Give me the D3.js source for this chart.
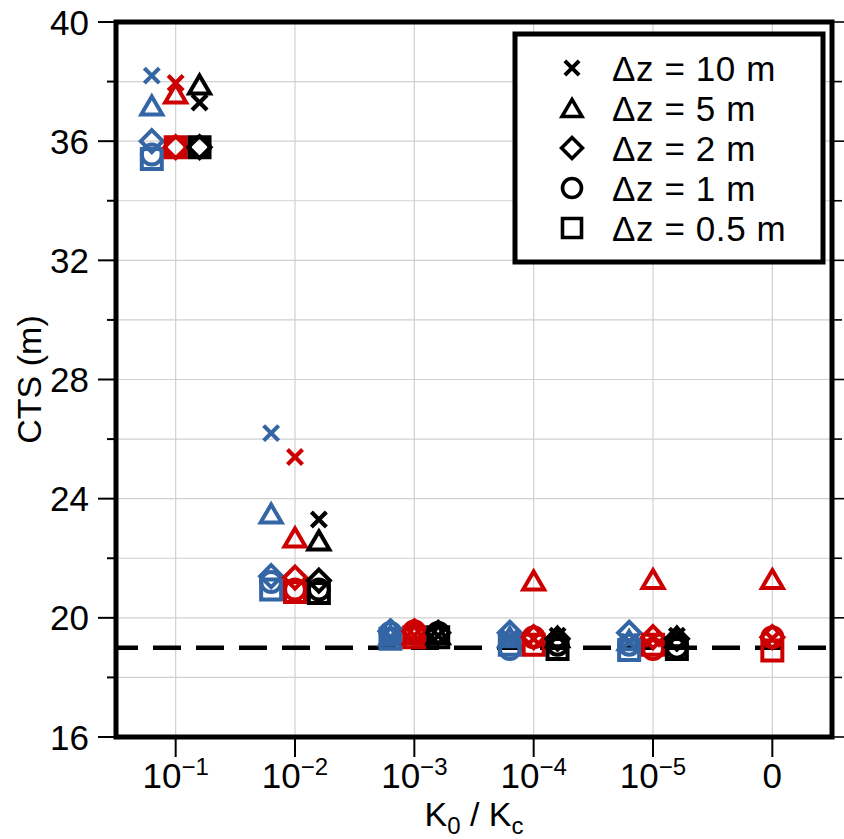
<!DOCTYPE html>
<html>
<head>
<meta charset="utf-8">
<script src="https://cdn.jsdelivr.net/npm/d3@7"></script>
<style>
  html, body { margin: 0; padding: 0; background: #fff; }
  svg { display: block; font-family: "Liberation Sans", Arial, Helvetica, sans-serif; }
</style>
</head>
<body>
<svg id="chart" width="844" height="839"></svg>
<script>
// ---------------- data ----------------
const categories = ["10", "10", "10", "10", "10", "0"];
const categoryExponents = ["\u22121", "\u22122", "\u22123", "\u22124", "\u22125", ""];
const yTicks = [16, 20, 24, 28, 32, 36, 40];
const yMinorTicks = [18, 22, 26, 30, 34, 38];
const referenceLine = 19;

const dzLabels = ["\u0394z = 10 m", "\u0394z = 5 m", "\u0394z = 2 m", "\u0394z = 1 m", "\u0394z = 0.5 m"];
const dzSymbols = ["cross", "triangle", "diamond", "circle", "square"];

// values per dz, per category (null = not shown)
const blueDz10  = [38.2, 26.2, 19.35, 19.3, 19.2, null];
const blueDz5   = [37.2, 23.5, 19.4, 19.35, 19.25, null];
const blueDz2   = [36.0, 21.4, 19.55, 19.5, 19.5, null];
const blueDz1   = [35.55, 21.2, 19.5, 18.95, 19.1, null];
const blueDz05  = [35.4, 20.95, 19.3, 19.1, 18.92, null];

const redDz10   = [37.95, 25.4, 19.4, 19.3, 19.3, 19.3];
const redDz5    = [37.6, 22.7, 19.45, 21.25, 21.3, 21.3];
const redDz2    = [35.8, 21.35, 19.55, 19.35, 19.35, 19.35];
const redDz1    = [35.8, 20.95, 19.55, 19.35, 18.95, 19.35];
const redDz05   = [35.8, 20.87, 19.35, 19.1, 19.1, 18.9];

const blackDz10 = [37.3, 23.3, 19.4, 19.4, 19.4, null];
const blackDz5  = [37.9, 22.6, 19.45, 19.35, 19.35, null];
const blackDz2  = [35.8, 21.25, 19.5, 19.3, 19.3, null];
const blackDz1  = [35.8, 20.95, 19.5, 19.1, 19.0, null];
const blackDz05 = [35.8, 20.83, 19.35, 18.95, 18.95, null];

const groups = [
  { color: "#3465a4", offset: -0.2, values: [blueDz10, blueDz5, blueDz2, blueDz1, blueDz05] },
  { color: "#cc0000", offset: 0.0,  values: [redDz10, redDz5, redDz2, redDz1, redDz05] },
  { color: "#000000", offset: 0.2,  values: [blackDz10, blackDz5, blackDz2, blackDz1, blackDz05] }
];

// ---------------- layout ----------------
const svg = d3.select("#chart");
const L = 116, R = 832, T = 22, B = 737;
const x = d3.scaleLinear().domain([-0.5, 5.5]).range([L, R]);
const y = d3.scaleLinear().domain([16, 40]).range([B, T]);

// grid
const grid = svg.append("g").attr("stroke", "#d0d0d0").attr("stroke-width", 1.2);
categories.forEach((c, i) => {
  grid.append("line").attr("x1", x(i)).attr("x2", x(i)).attr("y1", T).attr("y2", B);
});
d3.range(18, 40, 2).forEach(v => {
  grid.append("line").attr("x1", L).attr("x2", R).attr("y1", y(v)).attr("y2", y(v));
});

// dashed reference line
svg.append("line")
  .attr("x1", L).attr("x2", R)
  .attr("y1", y(referenceLine)).attr("y2", y(referenceLine))
  .attr("stroke", "#000").attr("stroke-width", 4.5)
  .attr("stroke-dasharray", "28 15")
  .attr("stroke-dashoffset", 6);

// symbol path generators (centered at 0,0)
function symbolPath(type, s) {
  switch (type) {
    case "cross": {
      const h = 7.5 * s;
      return `M${-h},${-h}L${h},${h}M${-h},${h}L${h},${-h}`;
    }
    case "triangle": {
      const w = 10.5 * s, h = 9 * s;
      return `M0,${-h}L${w},${h}L${-w},${h}Z`;
    }
    case "diamond": {
      const w = 11 * s, h = 11 * s;
      return `M0,${-h}L${w},0L0,${h}L${-w},0Z`;
    }
    case "circle": {
      const r = 10 * s;
      return `M${r},0A${r},${r} 0 1,1 ${-r},0A${r},${r} 0 1,1 ${r},0Z`;
    }
    case "square": {
      const h = 10 * s;
      return `M${-h},${-h}L${h},${-h}L${h},${h}L${-h},${h}Z`;
    }
  }
}

// markers
const marks = svg.append("g");
groups.forEach(g => {
  g.values.forEach((series, k) => {
    const type = dzSymbols[k];
    series.forEach((v, i) => {
      if (v === null) return;
      marks.append("path")
        .attr("d", symbolPath(type, 1))
        .attr("transform", `translate(${x(i + g.offset)},${y(v)})`)
        .attr("fill", "none")
        .attr("stroke", g.color)
        .attr("stroke-width", type === "cross" ? 4.2 : 4)
        .attr("stroke-linejoin", "miter");
    });
  });
});

// frame
svg.append("rect")
  .attr("x", L).attr("y", T).attr("width", R - L).attr("height", B - T)
  .attr("fill", "none").attr("stroke", "#000").attr("stroke-width", 5);

// y ticks (left, outside) and right ticks
const ticks = svg.append("g").attr("stroke", "#000");
yTicks.forEach(v => {
  ticks.append("line").attr("x1", L - 18).attr("x2", L).attr("y1", y(v)).attr("y2", y(v)).attr("stroke-width", 2);
  ticks.append("line").attr("x1", R).attr("x2", R + 14).attr("y1", y(v)).attr("y2", y(v)).attr("stroke-width", 1.6);
});
yMinorTicks.forEach(v => {
  ticks.append("line").attr("x1", L - 9).attr("x2", L).attr("y1", y(v)).attr("y2", y(v)).attr("stroke-width", 2);
  ticks.append("line").attr("x1", R).attr("x2", R + 10).attr("y1", y(v)).attr("y2", y(v)).attr("stroke-width", 1.6);
});
categories.forEach((c, i) => {
  ticks.append("line").attr("x1", x(i)).attr("x2", x(i)).attr("y1", B).attr("y2", B + 20).attr("stroke-width", 2);
});

// y tick labels
svg.append("g").selectAll("text").data(yTicks).join("text")
  .attr("x", 89).attr("y", d => y(d))
  .attr("dy", "0.36em")
  .attr("text-anchor", "end")
  .attr("font-size", 35)
  .text(d => d);

// x tick labels
const xl = svg.append("g");
categories.forEach((c, i) => {
  const t = xl.append("text")
    .attr("x", x(i)).attr("y", 788)
    .attr("text-anchor", "middle")
    .attr("font-size", 35);
  t.append("tspan").text(c);
  if (categoryExponents[i]) {
    t.append("tspan").attr("font-size", 24).attr("dy", -13).text(categoryExponents[i]);
  }
});

// axis titles
const xt = svg.append("text")
  .attr("x", (L + R) / 2).attr("y", 826)
  .attr("text-anchor", "middle")
  .attr("font-size", 34);
xt.append("tspan").text("K");
xt.append("tspan").attr("font-size", 24).attr("dy", 8).text("0");
xt.append("tspan").attr("dy", -8).text(" / K");
xt.append("tspan").attr("font-size", 24).attr("dy", 8).text("c");

svg.append("text")
  .attr("transform", `translate(41,${(T + B) / 2}) rotate(-90)`)
  .attr("text-anchor", "middle")
  .attr("font-size", 34)
  .text("CTS (m)");

// legend
const lg = svg.append("g");
lg.append("rect")
  .attr("x", 515).attr("y", 34).attr("width", 308).attr("height", 228)
  .attr("fill", "#fff").attr("stroke", "#000").attr("stroke-width", 5);
dzLabels.forEach((lab, k) => {
  const cy = 68 + k * 40;
  lg.append("path")
    .attr("d", symbolPath(dzSymbols[k], 0.95))
    .attr("transform", `translate(572,${cy})`)
    .attr("fill", "none").attr("stroke", "#000")
    .attr("stroke-width", dzSymbols[k] === "cross" ? 4 : 3.6);
  lg.append("text")
    .attr("x", 612).attr("y", cy).attr("dy", "0.36em")
    .attr("font-size", 35)
    .attr("letter-spacing", 0.6)
    .text(lab);
});
</script>
</body>
</html>
